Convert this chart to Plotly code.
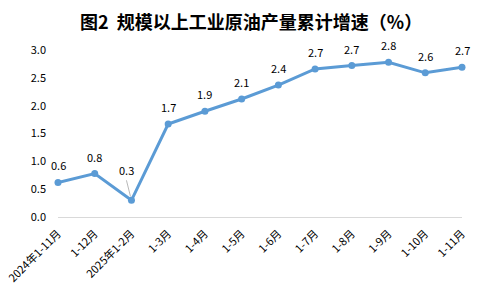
import plotly.graph_objects as go

categories = ["2024年1-11月", "1-12月", "2025年1-2月", "1-3月", "1-4月", "1-5月",
              "1-6月", "1-7月", "1-8月", "1-9月", "1-10月", "1-11月"]
values = [0.62, 0.78, 0.30, 1.67, 1.90, 2.12, 2.37, 2.66, 2.72, 2.78, 2.59, 2.69]
y_ticks = [0.0, 0.5, 1.0, 1.5, 2.0, 2.5, 3.0]

font_family = "Noto Sans CJK SC, Microsoft YaHei, sans-serif"

fig = go.Figure()
fig.add_trace(go.Scatter(
    x=list(range(len(categories))), y=values,
    mode="lines+markers",
    line=dict(color="#5B9BD5", width=3),
    marker=dict(color="#5B9BD5", size=7),
    cliponaxis=False,
    hoverinfo="skip",
))

for i, v in enumerate(values):
    if i == 2:
        fig.add_annotation(x=i, y=v, text=f"{v:.1f}", showarrow=True, arrowhead=0,
                           arrowwidth=0.8, arrowcolor="#A6A6A6", ax=-5, ay=-20,
                           standoff=4, font=dict(size=11, color="#000000", family=font_family),
                           yanchor="bottom")
    else:
        fig.add_annotation(x=i, y=v, text=f"{v:.1f}", showarrow=False, yshift=17,
                           font=dict(size=11, color="#000000", family=font_family))

fig.update_layout(
    width=481, height=288,
    margin=dict(l=58, r=19, t=50, b=71),
    paper_bgcolor="white", plot_bgcolor="white",
    showlegend=False,
    title=dict(text="<b>图2  规模以上工业原油产量累计增速（%）</b>", x=0.522, xanchor="center",
               y=0.922, yanchor="middle",
               font=dict(size=18, color="#000000", family=font_family)),
    xaxis=dict(
        range=[0, len(categories) - 1],
        tickmode="array", tickvals=list(range(len(categories))), ticktext=categories,
        tickangle=-45, tickfont=dict(size=11, color="#000000", family=font_family),
        showgrid=False, showline=False, zeroline=False, ticks="",
        ticklabelstandoff=7, automargin=False,
    ),
    yaxis=dict(
        range=[0, 3.0], tickmode="array", tickvals=y_ticks,
        ticktext=[f"{t:.1f}" for t in y_ticks],
        tickfont=dict(size=11, color="#000000", family=font_family),
        showgrid=False, zeroline=True, zerolinecolor="#D9D9D9", zerolinewidth=1,
        showline=False, ticks="", ticklabelstandoff=11, automargin=False,
    ),
)

fig.write_html("out.html")
